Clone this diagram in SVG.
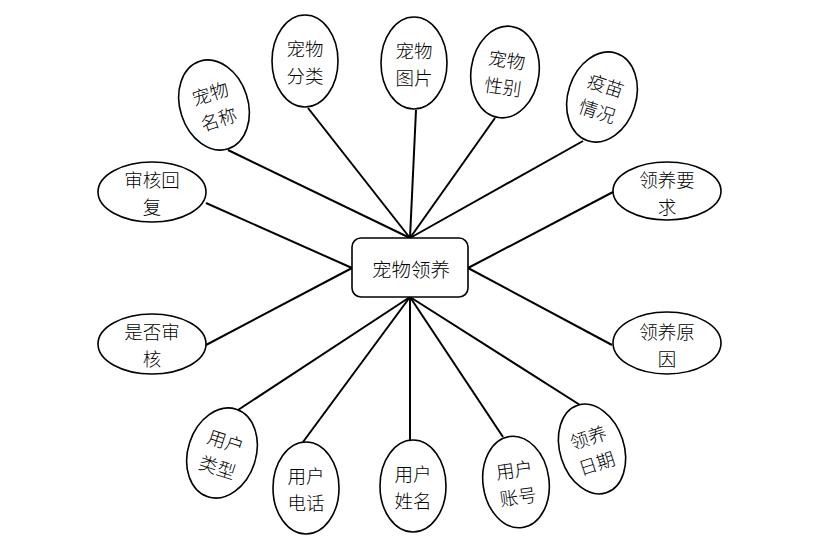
<svg xmlns="http://www.w3.org/2000/svg" width="816" height="545" viewBox="0 0 816 545">
<style>
.e{fill:#fff;stroke:#000;stroke-width:1.6}
.c line{stroke:#000;stroke-width:2}
text{font-family:"Noto Sans CJK SC","Liberation Serif",sans-serif;font-size:18.5px;font-weight:300;fill:#000;text-anchor:middle;dominant-baseline:central}
</style>
<rect width="816" height="545" fill="#fff"/>
<g id="connectors" class="c">
<line x1="228" y1="150" x2="410" y2="238"/>
<line x1="308" y1="108" x2="410" y2="238"/>
<line x1="416" y1="110" x2="410" y2="238"/>
<line x1="495" y1="118" x2="410" y2="238"/>
<line x1="583" y1="141" x2="410" y2="238"/>
<line x1="613" y1="192" x2="468" y2="268"/>
<line x1="612" y1="345" x2="468" y2="268"/>
<line x1="580" y1="405" x2="410" y2="297"/>
<line x1="503" y1="437" x2="410" y2="297"/>
<line x1="410" y1="440" x2="410" y2="297"/>
<line x1="303" y1="442" x2="410" y2="297"/>
<line x1="238" y1="410" x2="410" y2="297"/>
<line x1="206" y1="345" x2="352" y2="268"/>
<line x1="206" y1="203" x2="352" y2="268"/>
</g>
<g id="center">
<rect x="352" y="238" width="116" height="59" rx="9" class="e"/>
<text x="411" y="268" style="font-size:19.5px">宠物领养</text>
</g>
<g id="n-mingcheng" transform="translate(214,105) rotate(-18)">
<ellipse rx="34" ry="46" class="e"/>
<text y="-13">宠物</text><text y="14">名称</text>
</g>
<g id="n-fenlei" transform="translate(305,61)">
<ellipse rx="33" ry="46" class="e"/>
<text y="-13">宠物</text><text y="14">分类</text>
</g>
<g id="n-tupian" transform="translate(414,63)">
<ellipse rx="33" ry="46" class="e"/>
<text y="-13">宠物</text><text y="14">图片</text>
</g>
<g id="n-xingbie" transform="translate(505,72) rotate(8)">
<ellipse rx="34" ry="46" class="e"/>
<text y="-13">宠物</text><text y="14">性别</text>
</g>
<g id="n-yimiao" transform="translate(602,97) rotate(18)">
<ellipse rx="34" ry="46" class="e"/>
<text y="-13">疫苗</text><text y="14">情况</text>
</g>
<g id="n-yaoqiu" transform="translate(667,191)">
<ellipse rx="54" ry="29" class="e"/>
<text y="-12">领养要</text><text y="15">求</text>
</g>
<g id="n-yuanyin" transform="translate(667,343)">
<ellipse rx="54" ry="31" class="e"/>
<text y="-12">领养原</text><text y="15">因</text>
</g>
<g id="n-riqi" transform="translate(592,449) rotate(-18)">
<ellipse rx="32" ry="46" class="e"/>
<text y="-13">领养</text><text y="14">日期</text>
</g>
<g id="n-zhanghao" transform="translate(516,482) rotate(-8)">
<ellipse rx="33" ry="46" class="e"/>
<text y="-13">用户</text><text y="14">账号</text>
</g>
<g id="n-xingming" transform="translate(413,486)">
<ellipse rx="33" ry="46" class="e"/>
<text y="-13">用户</text><text y="14">姓名</text>
</g>
<g id="n-dianhua" transform="translate(306,488)">
<ellipse rx="33" ry="46" class="e"/>
<text y="-13">用户</text><text y="14">电话</text>
</g>
<g id="n-leixing" transform="translate(222,453) rotate(18)">
<ellipse rx="34" ry="46" class="e"/>
<text y="-13">用户</text><text y="14">类型</text>
</g>
<g id="n-shifou" transform="translate(152,344)">
<ellipse rx="54" ry="30" class="e"/>
<text y="-13">是否审</text><text y="14">核</text>
</g>
<g id="n-huifu" transform="translate(152,192)">
<ellipse rx="54" ry="30" class="e"/>
<text y="-13">审核回</text><text y="14">复</text>
</g>
</svg>
